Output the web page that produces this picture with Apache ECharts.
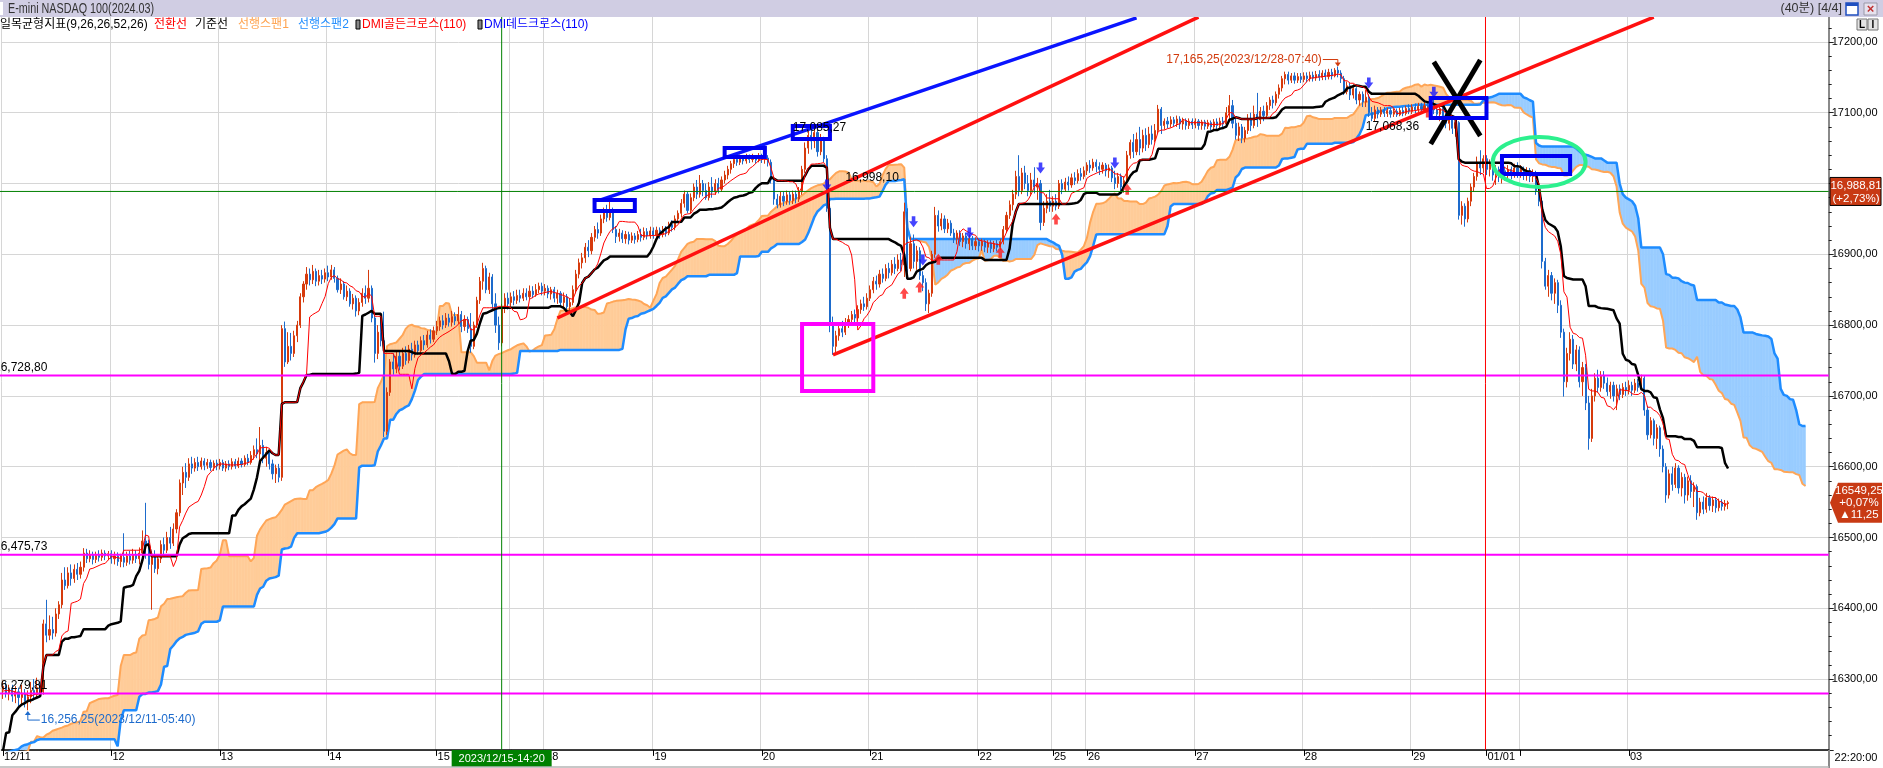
<!DOCTYPE html>
<html><head><meta charset="utf-8">
<script src="https://cdn.jsdelivr.net/npm/echarts@6/dist/echarts.min.js"></script>
<style>html,body{margin:0;padding:0;background:#fff;overflow:hidden}#c{width:1883px;height:768px}</style>
</head><body><div id="c"></div>
<script>
// ---------- warm-up bars (before the visible window; implied by indicator lines at the left edge) [open, close, low, high]
const d1206 = [[16070,16062,16050,16078],[16062,16075,16055,16082],[16075,16068,16060,16085],[16068,16080,16062,16088],[16080,16072,16064,16086],[16072,16085,16068,16090],[16085,16078,16070,16092],[16078,16088,16072,16095]];
const d1207 = [[16088,16095,16080,16100],[16095,16090,16084,16102],[16090,16100,16086,16106],[16100,16096,16090,16108],[16096,16108,16092,16112],[16108,16104,16098,16114],[16104,16115,16100,16120],[16115,16110,16104,16122],[16110,16122,16106,16128],[16122,16118,16112,16130],[16118,16130,16114,16135],
[16130,16142,16126,16148],[16142,16138,16132,16150],[16138,16155,16134,16160],[16155,16165,16150,16172],[16165,16160,16154,16175],[16160,16178,16156,16184],[16178,16190,16172,16196],[16190,16185,16178,16198],[16185,16200,16180,16206],[16200,16212,16195,16218],[16212,16208,16200,16220],[16208,16225,16204,16232],[16225,16238,16220,16244],[16238,16250,16232,16256],
[16250,16262,16244,16270],[16262,16258,16250,16274],[16258,16275,16254,16282],[16275,16290,16270,16298],[16290,16278,16270,16296],[16278,16300,16272,16330],[16300,16285,16276,16310],[16285,16270,16262,16292],[16270,16255,16248,16276],[16255,16240,16232,16262]];
const d1208 = [[16240,16232,16225,16246],[16232,16225,16218,16238],[16225,16210,16204,16230],[16210,16195,16188,16215],[16195,16180,16172,16200],[16180,16165,16158,16186],[16165,16150,16142,16170],[16150,16140,16130,16156],[16140,16132,16122,16146],[16132,16128,16120,16140],
[16128,16170,16100,16178],[16170,16160,16150,16185],[16160,16185,16152,16192],[16185,16215,16200,16222],
[16215,16230,16210,16238],[16230,16245,16222,16252],[16245,16238,16230,16256],[16238,16252,16234,16260],[16252,16248,16240,16262],[16248,16258,16242,16266],[16258,16250,16244,16264],[16250,16262,16246,16268],[16262,16256,16250,16270],[16256,16265,16250,16272]];
const d1210 = [[16265,16272,16258,16278],[16272,16268,16262,16280],[16268,16278,16264,16284],[16278,16274,16268,16286],[16274,16282,16270,16288],[16282,16278,16272,16290],[16278,16286,16274,16292],[16286,16280,16275,16294],[16280,16288,16276,16295],[16288,16282,16276,16296],[16282,16286,16278,16294]];

// ---------- visible 40-minute bars [open, close, low, high], one array per trading day
const d1211 = [[16285,16290,16272,16298],[16290,16280,16274,16296],[16280,16286,16270,16292],[16286,16276,16268,16292],[16276,16282,16266,16290],[16282,16274,16262,16288],[16274,16280,16264,16292],[16280,16268,16260,16286],[16268,16275,16256,16284],[16275,16284,16266,16296],[16284,16278,16270,16300],[16278,16288,16272,16302],[16288,16282,16274,16296],
[16282,16378,16278,16384],[16378,16362,16352,16412],[16362,16370,16355,16390],[16370,16365,16356,16388],[16365,16392,16360,16400],[16392,16405,16385,16410],[16405,16440,16400,16450],[16440,16432,16426,16458],[16432,16450,16428,16458],[16450,16442,16432,16462],[16442,16455,16436,16462],[16455,16448,16440,16464],[16448,16458,16442,16466],[16458,16478,16452,16485],[16478,16470,16464,16484],[16470,16476,16465,16482],[16476,16469,16462,16480],[16469,16475,16464,16480],[16475,16472,16466,16482],[16472,16478,16467,16483],[16478,16474,16468,16482],[16474,16477,16468,16481]];
const d1212 = [[16477,16470,16463,16482],[16470,16474,16462,16480],[16474,16466,16460,16479],[16466,16472,16458,16477],[16472,16465,16458,16506],[16465,16474,16460,16480],[16474,16468,16462,16481],[16468,16476,16463,16484],[16476,16470,16464,16482],[16470,16478,16462,16486],[16478,16495,16472,16510],[16495,16488,16470,16549],[16488,16462,16455,16497],[16462,16475,16398,16480],[16475,16456,16450,16482],[16456,16470,16448,16476],[16470,16490,16464,16496],[16490,16482,16474,16500],[16482,16500,16478,16508],[16500,16492,16484,16515],[16492,16512,16488,16520],[16512,16535,16506,16540],[16535,16577,16530,16582],[16577,16592,16560,16600],[16592,16585,16570,16605],[16585,16604,16580,16612],[16604,16598,16590,16614],[16598,16606,16593,16612],[16606,16600,16594,16614],[16600,16608,16596,16613],[16608,16602,16595,16612],[16602,16606,16597,16611],[16606,16599,16594,16610],[16599,16605,16594,16609],[16605,16601,16595,16610]];
const d1213 = [[16601,16606,16596,16611],[16606,16598,16594,16610],[16598,16604,16593,16608],[16604,16600,16595,16609],[16600,16607,16596,16612],[16607,16601,16597,16611],[16601,16608,16598,16613],[16608,16603,16599,16612],[16603,16612,16600,16616],[16612,16606,16602,16618],[16606,16616,16603,16622],[16616,16624,16610,16630],[16624,16618,16612,16640],[16618,16630,16608,16656],[16630,16612,16605,16638],[16612,16620,16600,16628],[16620,16604,16596,16624],[16604,16590,16582,16610],[16590,16598,16577,16603],[16598,16585,16578,16604],
[16585,16795,16580,16800],[16795,16748,16741,16805],[16748,16770,16745,16790],[16770,16760,16750,16789],[16760,16785,16755,16792],[16785,16800,16776,16806],[16800,16840,16796,16845],[16840,16858,16832,16862],[16858,16872,16850,16882],[16872,16864,16856,16880],[16864,16876,16858,16885],[16876,16862,16855,16880],[16862,16870,16856,16878],[16870,16865,16858,16878],[16865,16874,16860,16880]];
const d1214 = [[16874,16868,16862,16884],[16868,16878,16864,16885],[16878,16866,16860,16882],[16866,16850,16846,16870],[16850,16858,16844,16866],[16858,16840,16836,16862],[16840,16848,16834,16856],[16848,16830,16826,16852],[16830,16838,16822,16844],[16838,16820,16812,16842],[16820,16832,16814,16838],[16832,16845,16826,16852],[16845,16838,16830,16856],[16838,16852,16832,16878],[16852,16810,16804,16856],[16810,16760,16747,16815],[16760,16790,16752,16800],[16790,16778,16770,16810],[16778,16650,16642,16819],[16650,16705,16645,16712],[16705,16748,16700,16752],[16748,16738,16730,16760],[16738,16756,16732,16762],[16756,16742,16736,16764],[16742,16760,16738,16768],[16760,16750,16744,16770],[16750,16766,16746,16772],[16766,16758,16750,16775],[16758,16772,16754,16778],[16772,16764,16758,16778],[16764,16778,16760,16784],[16778,16772,16765,16786],[16772,16786,16768,16792],[16786,16780,16774,16794],[16780,16792,16776,16798]];
const d1215 = [[16792,16798,16786,16806],[16798,16806,16792,16812],[16806,16800,16794,16814],[16800,16810,16796,16817],[16810,16804,16798,16816],[16804,16812,16798,16820],[16812,16806,16800,16818],[16806,16815,16802,16826],[16815,16798,16790,16820],[16798,16808,16792,16814],[16808,16795,16789,16812],[16795,16770,16761,16817],[16770,16800,16766,16805],[16800,16835,16796,16840],[16835,16862,16830,16868],[16862,16880,16850,16888],[16880,16850,16845,16884],[16850,16868,16844,16874],[16868,16830,16820,16872],[16830,16800,16789,16845],[16800,16775,16765,16812],[16775,16825,16770,16830],[16825,16838,16817,16845],[16838,16830,16822,16846]];
const d1217 = [[16832,16840,16826,16846],[16840,16835,16828,16848],[16835,16842,16830,16850],[16842,16838,16832,16850],[16838,16845,16834,16852],[16845,16840,16835,16852],[16840,16848,16836,16856],[16848,16843,16838,16855],[16843,16850,16840,16858],[16850,16855,16845,16860],[16855,16848,16842,16860]];
const d1218 = [[16848,16852,16842,16858],[16852,16844,16838,16856],[16844,16850,16836,16854],[16850,16838,16832,16854],[16838,16845,16830,16850],[16845,16832,16826,16848],[16832,16840,16824,16846],[16840,16826,16820,16844],[16826,16832,16817,16838],[16832,16850,16828,16856],[16850,16872,16845,16878],[16872,16888,16866,16894],[16888,16895,16880,16902],[16895,16910,16888,16916],[16910,16905,16896,16920],[16905,16924,16900,16930],[16924,16935,16918,16940],[16935,16930,16922,16945],[16930,16950,16926,16956],[16950,16960,16944,16966],[16960,16952,16946,16970],[16952,16962,16948,16977],[16962,16935,16930,16966],[16935,16925,16916,16940],[16925,16930,16918,16936],[16930,16922,16916,16934],[16922,16928,16915,16933],[16928,16920,16914,16932],[16920,16926,16916,16931],[16926,16921,16915,16930],[16921,16928,16917,16933],[16928,16924,16918,16936],[16924,16932,16920,16938],[16932,16926,16921,16937],[16926,16933,16922,16939]];
const d1219 = [[16933,16927,16922,16938],[16927,16934,16923,16939],[16934,16928,16922,16938],[16928,16935,16924,16940],[16935,16930,16925,16940],[16930,16942,16927,16946],[16942,16938,16932,16948],[16938,16950,16934,16955],[16950,16958,16945,16962],[16958,16972,16952,16978],[16972,16985,16966,16990],[16985,16962,16958,16988],[16962,16980,16958,16986],[16980,16995,16975,17000],[16995,16985,16978,17005],[16985,17000,16980,17012],[17000,16990,16982,17005],[16990,16980,16977,17000],[16980,16995,16976,17002],[16995,16988,16980,17009],[16988,17000,16984,17006],[17000,16992,16986,17008],[16992,17005,16988,17010],[17005,17012,17000,17018],[17012,17020,17006,17025],[17020,17028,17014,17032],[17028,17034,17022,17038],[17034,17030,17025,17040],[17030,17036,17026,17041],[17036,17032,17027,17040],[17032,17038,17028,17042],[17038,17034,17029,17041],[17034,17037,17030,17042],[17037,17033,17028,17040],[17033,17038,17030,17043]];
const d1220 = [[17038,17034,17029,17042],[17034,17036,17028,17040],[17036,17030,17024,17040],[17030,17005,17000,17034],[17005,16978,16970,17010],[16978,16970,16965,16985],[16970,16982,16966,16988],[16982,16975,16968,16988],[16975,16984,16970,16990],[16984,16976,16970,16988],[16976,16985,16971,16990],[16985,16978,16972,16990],[16978,16988,16974,16995],[16988,17020,16984,17025],[17020,17050,17015,17058],[17050,17068,17042,17075],[17068,17060,17048,17085],[17060,17072,17050,17080],[17072,17045,17038,17076],[17045,17062,17040,17070],[17062,17035,17030,17066],[17035,16965,16960,17040],[16965,16800,16790,16970],[16800,16770,16758,16812],[16770,16785,16762,16792],[16785,16795,16778,16802],[16795,16790,16783,16806],[16790,16802,16786,16810],[16802,16808,16796,16814],[16808,16815,16802,16820],[16815,16810,16804,16822],[16810,16822,16806,16828],[16822,16830,16816,16836],[16830,16826,16820,16840],[16826,16838,16822,16845]];
const d1221 = [[16838,16850,16834,16856],[16850,16862,16845,16868],[16862,16858,16850,16870],[16858,16872,16853,16878],[16872,16866,16860,16880],[16866,16880,16862,16886],[16880,16874,16866,16888],[16874,16886,16870,16892],[16886,16880,16872,16896],[16880,16892,16876,16900],[16892,16885,16876,16902],[16885,16960,16868,16973],[16960,16880,16874,16965],[16880,16915,16876,16925],[16915,16890,16880,16928],[16890,16905,16878,16912],[16905,16870,16864,16910],[16870,16860,16848,16876],[16860,16830,16820,16866],[16830,16845,16817,16850],[16845,16900,16840,16905],[16900,16955,16895,16967],[16955,16940,16932,16962],[16940,16950,16934,16958],[16950,16936,16930,16955],[16936,16944,16930,16950],[16944,16930,16926,16948],[16930,16922,16916,16936],[16922,16930,16914,16934],[16930,16918,16912,16934],[16918,16926,16910,16930],[16926,16915,16908,16930],[16915,16922,16906,16928],[16922,16912,16906,16926],[16912,16918,16906,16924]];
const d1222 = [[16918,16912,16904,16922],[16912,16918,16905,16922],[16918,16910,16903,16921],[16910,16916,16902,16920],[16916,16908,16902,16920],[16908,16915,16903,16919],[16915,16910,16904,16920],[16910,16918,16906,16922],[16918,16935,16914,16940],[16935,16955,16930,16960],[16955,16970,16950,16976],[16970,16985,16962,16991],[16985,17010,16978,17018],[17010,16990,16982,17040],[16990,17015,16985,17022],[17015,17000,16992,17025],[17000,16990,16982,17012],[16990,17005,16984,17015],[17005,16995,16986,17023],[16995,17000,16977,17008],[17000,16945,16934,17005],[16945,16965,16940,16975],[16965,16975,16958,16985],[16975,16968,16960,16991]];
const d1225 = [[16968,16975,16960,16982],[16975,16968,16962,16985],[16968,17000,16964,17005],[17000,16992,16985,17006],[16992,17002,16988,17008],[17002,16998,16990,17010],[16998,17008,16994,17014],[17008,17004,16998,17016],[17004,17014,17000,17020],[17014,17010,17004,17022],[17010,17018,17006,17024]];
const d1226 = [[17018,17026,17012,17030],[17026,17022,17015,17033],[17022,17030,17018,17035],[17030,17024,17016,17034],[17024,17020,17012,17030],[17020,17026,17014,17030],[17026,17018,17010,17029],[17018,17022,17008,17027],[17022,17008,17002,17025],[17008,17000,16992,17018],[17000,17010,16994,17015],[17010,16995,16988,17014],[16995,17004,16987,17010],[17004,17040,17000,17046],[17040,17058,17035,17062],[17058,17045,17036,17070],[17045,17062,17040,17072],[17062,17050,17040,17080],[17050,17068,17044,17076],[17068,17055,17046,17078],[17055,17070,17050,17080],[17070,17062,17055,17082],[17062,17075,17058,17084],[17075,17105,17070,17111],[17105,17082,17070,17108],[17082,17088,17076,17092],[17088,17084,17078,17094],[17084,17090,17079,17095],[17090,17085,17080,17094],[17085,17091,17080,17096],[17091,17084,17077,17095],[17084,17089,17076,17093],[17089,17082,17076,17092],[17082,17088,17077,17092],[17088,17083,17077,17092]];
const d1227 = [[17083,17088,17078,17092],[17088,17082,17076,17091],[17082,17087,17076,17090],[17087,17081,17076,17090],[17081,17086,17077,17090],[17086,17080,17075,17089],[17080,17087,17076,17091],[17087,17082,17077,17092],[17082,17088,17078,17093],[17088,17084,17078,17094],[17084,17100,17080,17108],[17100,17110,17090,17125],[17110,17085,17078,17118],[17085,17068,17062,17092],[17068,17080,17060,17086],[17080,17064,17057,17084],[17064,17075,17058,17080],[17075,17090,17070,17098],[17090,17082,17074,17100],[17082,17098,17078,17110],[17098,17090,17080,17128],[17090,17102,17084,17108],[17102,17096,17088,17110],[17096,17110,17092,17115],[17110,17118,17104,17122],[17118,17114,17106,17124],[17114,17126,17110,17130],[17126,17135,17120,17140],[17135,17148,17130,17152],[17148,17154,17140,17158],[17154,17146,17140,17158],[17146,17152,17142,17156],[17152,17146,17141,17157],[17146,17151,17142,17156],[17151,17147,17142,17156]];
const d1228 = [[17147,17152,17143,17157],[17152,17148,17143,17157],[17148,17153,17144,17158],[17153,17149,17144,17158],[17149,17154,17145,17159],[17154,17150,17145,17160],[17150,17156,17146,17160],[17156,17151,17146,17161],[17151,17157,17147,17162],[17157,17152,17147,17162],[17152,17160,17150,17163],[17160,17156,17150,17165.25],[17156,17148,17142,17160],[17148,17130,17125,17152],[17130,17138,17126,17144],[17138,17125,17118,17142],[17125,17134,17120,17140],[17134,17118,17112,17136],[17118,17126,17110,17130],[17126,17115,17108,17130],[17115,17122,17108,17132],[17122,17100,17094,17126],[17100,17092,17088,17108],[17092,17104,17088,17110],[17104,17098,17092,17108],[17098,17104,17094,17108],[17104,17099,17094,17108],[17099,17103,17094,17107],[17103,17098,17093,17107],[17098,17102,17094,17106],[17102,17097,17094,17106],[17097,17103,17095,17107],[17103,17099,17095,17108],[17099,17106,17096,17110],[17106,17102,17098,17112]];
const d1229 = [[17102,17108,17098,17112],[17108,17104,17099,17113],[17104,17109,17100,17114],[17109,17105,17100,17114],[17105,17110,17100,17115],[17110,17106,17101,17116],[17106,17112,17100,17120],[17112,17104,17098,17118],[17104,17098,17090,17110],[17098,17106,17088,17110],[17106,17095,17088,17108],[17095,17085,17078,17100],[17085,17092,17075,17096],[17092,17078,17070,17095],[17078,17086,17066,17090],[17086,16955,16949,17088],[16955,16968,16942,16975],[16968,16950,16939,16972],[16950,16975,16945,16980],[16975,16995,16968,17000],[16995,17010,16988,17015],[17010,17030,17004,17038],[17030,17022,17012,17047],[17022,17035,17015,17040]];
const d0101 = [[17035,17020,17012,17040],[17020,17028,17010,17034],[17028,17012,17004,17032],[17012,17020,16998,17026],[17020,17010,17002,17024],[17010,17018,17000,17022],[17018,17012,17004,17024],[17012,17020,17006,17026],[17020,17014,17006,17024],[17014,17022,17008,17028],[17022,17016,17008,17030]];
const d0102 = [[17016,17020,17008,17026],[17020,17012,17005,17024],[17012,17018,17004,17023],[17018,17010,17002,17022],[17010,17015,17002,17020],[17015,16990,16984,17018],[16990,16975,16968,16995],[16975,16890,16880,16980],[16890,16855,16850,16895],[16855,16870,16840,16878],[16870,16845,16835,16875],[16845,16860,16830,16866],[16860,16828,16817,16864],[16828,16790,16782,16835],[16790,16720,16699,16795],[16720,16760,16712,16768],[16760,16780,16750,16790],[16780,16745,16738,16786],[16745,16765,16735,16772],[16765,16720,16712,16770],[16720,16740,16700,16748],[16740,16690,16680,16745],[16690,16640,16624,16700],[16640,16700,16635,16710],[16700,16725,16692,16732],[16725,16712,16705,16737],[16712,16728,16706,16735],[16728,16718,16710,16735],[16718,16706,16700,16726],[16706,16715,16696,16720],[16715,16700,16692,16720],[16700,16710,16680,16716],[16710,16702,16694,16716],[16702,16712,16697,16718],[16712,16708,16700,16720]];
const d0103 = [[16708,16715,16702,16722],[16715,16708,16700,16720],[16708,16718,16704,16724],[16718,16712,16706,16724],[16712,16725,16708,16730],[16725,16680,16672,16728],[16680,16645,16638,16686],[16645,16665,16640,16670],[16665,16640,16630,16668],[16640,16655,16625,16660],[16655,16625,16614,16658],[16625,16600,16592,16630],[16600,16560,16549,16605],[16560,16590,16555,16596],[16590,16575,16566,16600],[16575,16598,16570,16605],[16598,16570,16562,16602],[16570,16585,16558,16592],[16585,16560,16548,16590],[16560,16580,16552,16586],[16580,16565,16556,16588],[16565,16572,16543,16578],[16572,16535,16525,16575],[16535,16550,16530,16556],[16550,16540,16533,16558],[16540,16556,16535,16563],[16556,16545,16538,16560],[16545,16553,16536,16558],[16553,16542,16535,16557],[16542,16550,16537,16555],[16550,16544,16538,16554],[16544,16548,16538,16553],[16548,16549.25,16540,16552]];

// ---------- x-axis day labels (first bar of each day)
const dayLabels = ['12/11','12','13','14','15','17','18','19','20','21','22','25','26','27','28','29','01/01','02','03'];
const hiddenDayLabels = ['17','02'];
const futureBars = 32;

// ---------- DMI cross signals [bar index, price]
const goldenCross = [[291,16845],[296,16854],[302,16893],[322,16903],[340,16950],[363,16992],[460,17101]];
const deadCross = [[266,16998],[294,16946],[297,16892],[312,16930],[335,17022],[359,17029],[441,17142],[462,17129]];

// ---------- user drawings (data coordinates: [bar index, price])
const blueTrend = [[193,16977],[366,17234]];
const redTrendUpper = [[179.2,16810],[386.2,17235]];
const redTrendLower = [[267.7,16758],[532.7,17235]];
const magentaBox = [[258.0,16801.7],[280.9,16707.1]];
const blueBoxes = [[[190.5,16976.8],[203.7,16961.3]],[[232.5,17050.3],[245.7,17037.6]],[[255.1,17081.4],[266.7,17063]],[[461.1,17120.9],[478.9,17092.7]],[[484,17039],[506.3,17013.6]]];
const greenEllipse = [496,17030.5,14.85,35.3];
const blackCross = [[[462.1,17171.8],[476.6,17067.2]],[[477.2,17174.6],[460.8,17055.9]]];
const magentaLevels = [16728.80,16475.73,16279.81];
const magentaLabels = ['16,728,80','16,475,73','16,279,81'];
const crossLevel = 16988.81;
const crossBar = 161;
const yearBar = 479;
const highMark = [431,17165.25,'17,165,25(2023/12/28-07:40)'];
const lowMark = [8,16256.25,'16,256,25(2023/12/11-05:40)'];
const priceNotes = [[440.4,17080,'17,068,36'],[271.6,17008,'16,998,10'],[255,17078.5,'17,085,27']];
const lastClose = 16549.25;

// ---------- build
const pre = [].concat(d1206,d1207,d1208,d1210);
const days = [d1211,d1212,d1213,d1214,d1215,d1217,d1218,d1219,d1220,d1221,d1222,d1225,d1226,d1227,d1228,d1229,d0101,d0102,d0103];
const bars = []; const dayStart = {};
days.forEach((arr,d)=>{ dayStart[bars.length]=dayLabels[d]; arr.forEach(b=>bars.push(b)); });
const NC = bars.length + futureBars;
const cats = []; for(let i=0;i<NC;i++) cats.push(String(i));
const all = pre.concat(bars); const P = pre.length;
function mid(j,n){let hi=-Infinity,lo=Infinity;for(let k=j-n+1;k<=j;k++){const b=all[k];if(b[3]>hi)hi=b[3];if(b[2]<lo)lo=b[2];}return (hi+lo)/2;}
const tenkan=[], kijun=[];
for(let i=0;i<bars.length;i++){tenkan.push(mid(P+i,9));kijun.push(mid(P+i,26));}
const SHIFT=25; const span1=[], span2=[];
for(let k=0;k<bars.length+SHIFT;k++){const j=P+k-SHIFT; span1.push(j>=25?(mid(j,9)+mid(j,26))/2:null); span2.push(j>=51?mid(j,52):null);}
const cloud=[];
for(let k=0;k<span1.length-1;k++){ if(span1[k]!=null&&span2[k]!=null&&span1[k+1]!=null&&span2[k+1]!=null) cloud.push([k,span1[k],span2[k],span1[k+1],span2[k+1]]); }

const UP='#d63a0c', DOWN='#1d6bcc';
const FONT="'Liberation Sans','Noto Sans CJK KR',sans-serif";
const isDay = i => dayStart[i]!==undefined;

const chart = echarts.init(document.getElementById('c'), null, {renderer:'canvas'});
const option = {
  animation:false, backgroundColor:'#fff',
  grid:{left:1.5, right:54.3, top:13.6, bottom:18.1, containLabel:false},
  xAxis:{type:'category', data:cats, boundaryGap:true,
    axisLine:{lineStyle:{color:'#000',width:1.5}},
    axisTick:{show:true, alignWithLabel:true, length:6, interval:(i)=>isDay(i), lineStyle:{color:'#000'}},
    axisLabel:{interval:(i)=>isDay(i)&&!hiddenDayLabels.includes(dayStart[i]), formatter:(v,i)=>dayStart[i]||'', align:'left', margin:2, color:'#000', fontSize:11, fontFamily:FONT, padding:[0,0,0,1]},
    splitLine:{show:true, interval:(i)=>isDay(i), lineStyle:{color:'#d6d6d6',width:1}}},
  yAxis:{type:'value', position:'right', min:16200, max:17240, interval:100, scale:true,
    axisLine:{show:true, lineStyle:{color:'#8a8a8a',width:2}},
    axisTick:{show:true, length:5, lineStyle:{color:'#222'}},
    minorTick:{show:true, splitNumber:5, length:3, lineStyle:{color:'#222'}},
    axisLabel:{margin:3, color:'#000', fontSize:11, fontFamily:FONT, showMaxLabel:false,
      formatter:(v)=> v<=16200||v>17200 ? '' : v.toFixed(2).replace('.',',')},
    splitLine:{show:true, lineStyle:{color:'#d6d6d6',width:1}}},
  series:[
    {type:'custom', name:'cloud', z:1, clip:true, data:cloud, encode:{x:0,y:1}, silent:true,
      renderItem:(params,api)=>{
        const k=api.value(0), a1=api.value(1), a2=api.value(2), b1=api.value(3), b2=api.value(4);
        const C=(x,v)=>api.coord([x,v]);
        const col=d=> d>=0?'#ffcc99':'#99ccff';
        const poly=(pts,c)=>({type:'polygon',shape:{points:pts},style:{fill:c,stroke:c,lineWidth:0.6}});
        const d0=a1-a2, d1=b1-b2; const ch=[];
        if(d0*d1<0){const t=d0/(d0-d1); const xm=k+t, vm=a1+(b1-a1)*t;
          ch.push(poly([C(k,a1),C(xm,vm),C(k,a2)],col(d0)));
          ch.push(poly([C(xm,vm),C(k+1,b1),C(k+1,b2)],col(d1)));
        } else ch.push(poly([C(k,a1),C(k+1,b1),C(k+1,b2),C(k,a2)],col(d0+d1)));
        return {type:'group',children:ch};
      }},
    {type:'line', name:'선행스팬1', data:span1, z:2, showSymbol:false, silent:true, lineStyle:{color:'#ffa657',width:2}},
    {type:'line', name:'선행스팬2', data:span2, z:2, showSymbol:false, silent:true, lineStyle:{color:'#1e8cff',width:2.5}},
    {type:'candlestick', name:'price', data:bars, z:3, barWidth:1.6,
      itemStyle:{color:UP,color0:DOWN,borderColor:UP,borderColor0:DOWN,borderWidth:1}},
    {type:'line', name:'기준선', data:kijun, z:4, showSymbol:false, silent:true, lineStyle:{color:'#000',width:2.5}},
    {type:'line', name:'전환선', data:tenkan, z:4, showSymbol:false, silent:true, lineStyle:{color:'#ff0000',width:1}},
    {type:'scatter', name:'DMI골든크로스', data:goldenCross, z:6, symbol:'path://M5,0 L10,6 L7,6 L7,11 L3,11 L3,6 L0,6 Z', symbolSize:[9,11], itemStyle:{color:'#ff1a1a'}},
    {type:'scatter', name:'DMI데드크로스', data:deadCross, z:6, symbol:'path://M3,0 L7,0 L7,5 L10,5 L5,11 L0,5 L3,5 Z', symbolSize:[9,11], itemStyle:{color:'#1515ff'}}
  ]
};
chart.setOption(option);

const px=(i,v)=>chart.convertToPixel({xAxisIndex:0,yAxisIndex:0},[i,v]);
const G=[]; const Z=100;
const line=(a,b,color,w,z)=>G.push({type:'line',z:z||Z,silent:true,shape:{x1:a[0],y1:a[1],x2:b[0],y2:b[1]},style:{stroke:color,lineWidth:w}});
const text=(t,x,y,o,z)=>G.push({type:'text',z:z||Z+5,silent:true,style:Object.assign({text:t,x:x,y:y,fill:'#000',font:'11px '+FONT,textAlign:'left',textVerticalAlign:'middle'},o||{})});
const L=0, R=1828.7, TOP=17, BOT=749.9;
// reference lines
magentaLevels.forEach((lv,k)=>{const y=px(0,lv)[1]; line([L,y],[R,y],'#ff00ff',2); text(magentaLabels[k],-6,y-8,{font:'12px '+FONT});});
{const y=px(0,crossLevel)[1]; line([L,y],[R,y],'#008000',1);}
{const x=px(crossBar,17000)[0]; line([x,TOP],[x,BOT],'#008000',1);}
{const x=px(yearBar,17000)[0]; line([x-1,TOP],[x-1,BOT],'#ff0000',1);}
// drawings
const seg=(a,b,c,w)=>line(px(a[0],a[1]),px(b[0],b[1]),c,w,Z+2);
seg(blueTrend[0],blueTrend[1],'#0a14ff',3.5);
seg(redTrendUpper[0],redTrendUpper[1],'#ff1010',3.5);
seg(redTrendLower[0],redTrendLower[1],'#ff1010',3.5);
const box=(b,c,w)=>{const p=px(b[0][0],b[0][1]), q=px(b[1][0],b[1][1]); G.push({type:'rect',z:Z+3,silent:true,shape:{x:Math.min(p[0],q[0]),y:Math.min(p[1],q[1]),width:Math.abs(q[0]-p[0]),height:Math.abs(q[1]-p[1])},style:{fill:null,stroke:c,lineWidth:w}});};
box(magentaBox,'#ff00ff',4);
blueBoxes.forEach(b=>box(b,'#0000f0',4));
{const c=px(greenEllipse[0],greenEllipse[1]); const e=px(greenEllipse[0]+greenEllipse[2],greenEllipse[1]+greenEllipse[3]);
 G.push({type:'ellipse',z:Z+3,silent:true,shape:{cx:c[0],cy:c[1],rx:Math.abs(e[0]-c[0]),ry:Math.abs(e[1]-c[1])},style:{fill:null,stroke:'#2cf08e',lineWidth:4}});}
blackCross.forEach(s=>seg(s[0],s[1],'#000',5));
// annotations
{const h=px(highMark[0],highMark[1]); const y=h[1]-7;
 text(highMark[2],h[0]-16,y,{fill:'#d23a0c',textAlign:'right',font:'12px '+FONT});
 G.push({type:'polyline',z:Z+5,silent:true,shape:{points:[[h[0]-15,y],[h[0],y],[h[0],h[1]-1]]},style:{stroke:'#d23a0c',lineWidth:1,fill:null}});
 G.push({type:'polygon',z:Z+5,silent:true,shape:{points:[[h[0]-3,h[1]-4],[h[0]+3,h[1]-4],[h[0],h[1]]]},style:{fill:'#d23a0c'}});}
{const l=px(lowMark[0],lowMark[1]); const y=l[1]+10;
 G.push({type:'polyline',z:Z+5,silent:true,shape:{points:[[l[0],l[1]+2],[l[0],y],[l[0]+12,y]]},style:{stroke:'#1d6bcc',lineWidth:1,fill:null}});
 G.push({type:'polygon',z:Z+5,silent:true,shape:{points:[[l[0]-3,l[1]+5],[l[0]+3,l[1]+5],[l[0],l[1]+1]]},style:{fill:'#1d6bcc'}});
 text(lowMark[2],l[0]+13,y,{fill:'#1d6bcc',font:'12px '+FONT});}
priceNotes.forEach(n=>{const p=px(n[0],n[1]); text(n[2],p[0],p[1],{font:'12px '+FONT});});
// title bar
const ZT=Z+30;
G.push({type:'rect',z:ZT,silent:true,shape:{x:0,y:0,width:1883,height:17},style:{fill:'#d0cde3'}});
G.push({type:'rect',z:ZT+1,silent:true,shape:{x:0,y:2,width:3,height:13},style:{fill:'#ffffff'}});
G.push({type:'text',z:ZT+1,silent:true,x:8,y:9,scaleX:0.77,style:{text:'E-mini NASDAQ 100(2024.03)',x:0,y:0,font:'14px '+FONT,fill:'#333',textVerticalAlign:'middle'}});
G.push({type:'text',z:ZT+1,silent:true,style:{text:'(40분) [4/4]',x:1842,y:9,font:'12.5px '+FONT,fill:'#333',textAlign:'right',textVerticalAlign:'middle'}});
G.push({type:'rect',z:ZT+1,silent:true,shape:{x:1846,y:3,width:12,height:12},style:{fill:'#fff',stroke:'#1f4fc0',lineWidth:1.5}});
G.push({type:'rect',z:ZT+2,silent:true,shape:{x:1846,y:3,width:12,height:3},style:{fill:'#1f4fc0'}});
G.push({type:'rect',z:ZT+1,silent:true,shape:{x:1864,y:3,width:13,height:12},style:{fill:'#e6e2ee',stroke:'#9a98a8',lineWidth:1}});
G.push({type:'text',z:ZT+2,silent:true,style:{text:'×',x:1870.5,y:9,font:'bold 13px '+FONT,fill:'#c03030',textAlign:'center',textVerticalAlign:'middle'}});
// y-axis header buttons
[['L',1857],['I',1868]].forEach(b=>{G.push({type:'rect',z:ZT,silent:true,shape:{x:b[1],y:19,width:10,height:11},style:{fill:'#e4e4e4',stroke:'#777',lineWidth:1}});
 G.push({type:'text',z:ZT+1,silent:true,style:{text:b[0],x:b[1]+5,y:25,font:'bold 10px '+FONT,fill:'#000',textAlign:'center',textVerticalAlign:'middle'}});});
// legend
[['일목균형지표(9,26,26,52,26)',0,'#000'],['전환선',154,'#ff0000'],['기준선',195,'#000'],['선행스팬1',238,'#ffa24d'],['선행스팬2',298,'#1e8cff'],['DMI골든크로스(110)',362,'#ff0000'],['DMI데드크로스(110)',484,'#0000ff']]
 .forEach(t=>G.push({type:'text',z:ZT,silent:true,style:{text:t[0],x:t[1],y:25,font:'12px '+FONT,fill:t[2],textVerticalAlign:'middle'}}));
[356,478].forEach(x=>G.push({type:'rect',z:ZT,silent:true,shape:{x:x,y:20,width:4,height:9},style:{fill:'#888',stroke:'#000',lineWidth:1}}));
// right price tags
const TF='11.5px '+FONT;
{const y=px(0,crossLevel)[1];
 G.push({type:'rect',z:ZT,silent:true,shape:{x:1830,y:y-14,width:51,height:28},style:{fill:'#c83a14',stroke:'#000',lineWidth:1}});
 text('16,988,81',1856,y-6,{fill:'#fff',textAlign:'center',font:TF},ZT+1); text('(+2,73%)',1856,y+7,{fill:'#fff',textAlign:'center',font:TF},ZT+1);}
{const y=px(0,lastClose)[1];
 G.push({type:'polygon',z:ZT,silent:true,shape:{points:[[1830,y],[1838,y-20],[1882,y-20],[1882,y+20],[1838,y+20]]},style:{fill:'#c83a14'}});
 text('16549,25',1859,y-12,{fill:'#fff',textAlign:'center',font:TF},ZT+1); text('+0,07%',1859,y,{fill:'#fff',textAlign:'center',font:TF},ZT+1); text('▲11,25',1859,y+12,{fill:'#fff',textAlign:'center',font:TF},ZT+1);}
// x-axis crosshair label & time
{const x=px(crossBar,17000)[0];
 G.push({type:'rect',z:ZT,silent:true,shape:{x:x-50,y:750,width:100,height:17},style:{fill:'#008000'}});
 text('2023/12/15-14:20',x,759,{fill:'#fff',textAlign:'center'},ZT+1);}
line([1829,750],[1829,768],'#8a8a8a',2,ZT);
line([0,767],[1829,767],'#b4b4b4',1.5,ZT);
text('22:20:00',1856,758,{textAlign:'center'},ZT+1);
chart.setOption({graphic:G});
</script></body></html>
